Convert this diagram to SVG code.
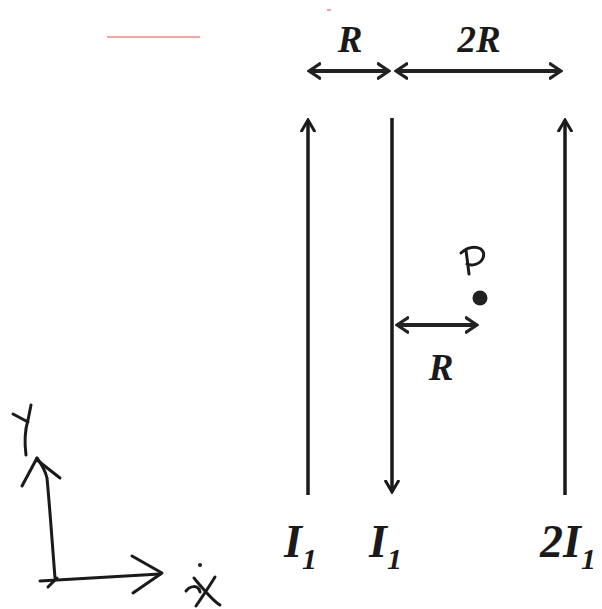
<svg xmlns="http://www.w3.org/2000/svg" width="602" height="609" viewBox="0 0 602 609">
<style>
.wire{stroke:#1a1a1a;stroke-width:3.5;fill:none}
.dim{stroke:#222;stroke-width:4;fill:none}
.lbl{font-family:"Liberation Serif",serif;font-weight:bold;font-style:italic;fill:#1a1a1a}
.hand{stroke:#1a1a1a;stroke-width:3;fill:none;stroke-linecap:round;stroke-linejoin:round}
</style>
<defs>
<marker id="wa" viewBox="0 0 14 16" refX="12" refY="8" markerWidth="14" markerHeight="16" orient="auto" markerUnits="userSpaceOnUse">
<path d="M0,1 L12,8 L0,15" fill="none" stroke="#1a1a1a" stroke-width="3"/>
</marker>
<marker id="da" viewBox="0 0 14 18" refX="12" refY="9" markerWidth="14" markerHeight="18" orient="auto-start-reverse" markerUnits="userSpaceOnUse">
<path d="M0,1 L12,9 L0,17" fill="none" stroke="#222" stroke-width="3.2"/>
</marker>
</defs>
<rect width="602" height="609" fill="#fff"/>
<line x1="107" y1="37" x2="200" y2="37" stroke="#e88" stroke-width="1.5"/>
<line x1="327" y1="10" x2="331" y2="10" stroke="#f4a0a8" stroke-width="2"/>

<g id="connectors">
<line class="wire" x1="308" y1="495" x2="308" y2="120" marker-end="url(#wa)"/>
<line class="wire" x1="392" y1="118" x2="392" y2="492" marker-end="url(#wa)"/>
<line class="wire" x1="565" y1="495" x2="565" y2="120" marker-end="url(#wa)"/>
<line class="dim" x1="309" y1="71" x2="389" y2="71" marker-start="url(#da)" marker-end="url(#da)"/>
<line class="dim" x1="396" y1="71" x2="561" y2="71" marker-start="url(#da)" marker-end="url(#da)"/>
<line class="dim" x1="397" y1="325" x2="477" y2="325" marker-start="url(#da)" marker-end="url(#da)"/>
</g>

<g id="wire1-label"><text class="lbl" x="284" y="557" font-size="46">I<tspan font-size="30" dy="12">1</tspan></text></g>
<g id="wire2-label"><text class="lbl" x="369" y="557" font-size="46">I<tspan font-size="30" dy="12">1</tspan></text></g>
<g id="wire3-label"><text class="lbl" x="540" y="557" font-size="46">2I<tspan font-size="30" dy="12">1</tspan></text></g>
<g id="dim-labels">
<text class="lbl" x="350" y="52" font-size="37" text-anchor="middle">R</text>
<text class="lbl" x="479" y="52" font-size="37" text-anchor="middle">2R</text>
<text class="lbl" x="441" y="380" font-size="37" text-anchor="middle">R</text>
</g>
<g id="point-P">
<circle cx="480" cy="298" r="7.5" fill="#222"/>
<path class="hand" d="M469,274 L466,250 M461,253 C472,243 487,247 483,258 C480,265 471,266 467,264" stroke-width="2.2"/>
</g>
<g id="axes">
<path class="hand" d="M55,578 C52,540 50,510 47,478 C45,470 40,462 37,458"/>
<path class="hand" d="M37,458 L22,486 M37,460 L60,478" stroke-width="3.5"/>
<path class="hand" d="M26,455 C24,440 25,430 28,420 L31,405 M28,422 L13,414" stroke-width="3.5"/>
<path class="hand" d="M40,581 L160,574"/>
<path class="hand" d="M132,556 L162,573 L133,593"/>
<path class="hand" d="M48,587 L57,578" stroke-width="2"/>
<path class="hand" d="M194,578 C204,590 212,600 220,605 M215,577 C207,590 200,600 196,606 M186,591 C190,586 198,584 200,592" stroke-width="5.5"/>
<circle cx="200" cy="565" r="2" fill="#1a1a1a"/>
</g>
</svg>
